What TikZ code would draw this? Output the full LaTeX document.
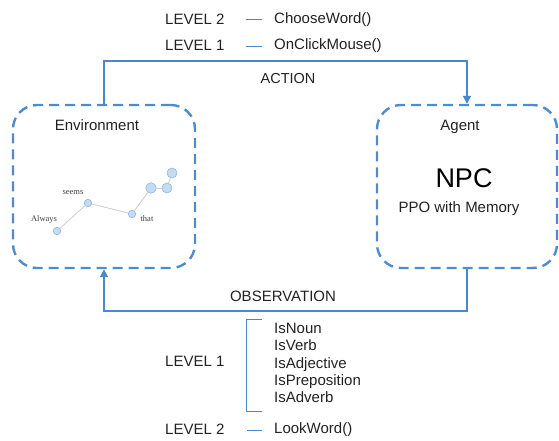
\documentclass[tikz,border=0pt]{standalone}
\usepackage{fontspec}
\setmainfont{Liberation Sans}
\newfontfamily\serifw{Liberation Serif}
\usetikzlibrary{arrows.meta,calc}
\definecolor{lineblue}{HTML}{4A88CC}
\definecolor{boxblue}{HTML}{4D8CD2}
\definecolor{txt}{HTML}{222222}
\definecolor{nodefill}{HTML}{C6DBF3}
\definecolor{nodedraw}{HTML}{8DB6E2}
\begin{document}
\begin{tikzpicture}[x=1pt,y=-1pt,
  lbl/.style={anchor=base west,inner sep=0pt,font=\fontsize{15}{17}\selectfont,text=txt},
  clbl/.style={anchor=base,inner sep=0pt,font=\fontsize{15}{17}\selectfont,text=txt},
  dbox/.style={draw=boxblue,line width=2.4pt,dash pattern=on 10pt off 6pt,rounded corners=24pt,minimum height=163pt,inner sep=0pt},
  conn/.style={draw=lineblue,line width=1.8pt},
  tip/.style={-{Triangle[width=8pt,length=8pt]}},
  thin/.style={draw=lineblue,line width=1pt},
  wnode/.style={circle,fill=nodefill,draw=nodedraw,line width=0.6pt,inner sep=0pt},
  wtxt/.style={inner sep=0pt,font=\serifw\fontsize{8.5}{9}\selectfont,text=black!75},
  wline/.style={draw=black!18,line width=0.9pt}]
\useasboundingbox (0,0) rectangle (559,440);

% boxes
\node[dbox,minimum width=182pt] (env) at (104,186.5) {};
\node[dbox,minimum width=180pt] (agent) at (467,186.5) {};

% titles
\node[clbl] (envt) at (97,130.5) {Environment};
\node[clbl] (agentt) at (460,130.5) {Agent};
\node[anchor=base,inner sep=0pt,font=\fontsize{27}{30}\selectfont,text=black] (npc) at (464,187.5) {NPC};
\node[clbl] (ppo) at (459,212) {PPO with Memory};

% connectors
\coordinate (act) at (288,61);
\coordinate (obs) at (288,311);
\draw[conn,tip] (env.north) |- (act) -| (agent.north);
\draw[conn,tip] (agent.south) |- (obs) -| (env.south);
\node[clbl,font=\fontsize{14.5}{17}\selectfont] (actl) at (288,83) {ACTION};
\node[clbl] (obsl) at (283,301.5) {OBSERVATION};

% top levels
\node[lbl] (t2) at (165,24.5) {LEVEL 2};
\node[lbl] (t1) at (165,50.5) {LEVEL 1};
\node[lbl] (cw) at (274,23) {ChooseWord()};
\node[lbl] (om) at (274,49) {OnClickMouse()};
\coordinate (d2a) at (246,19); \coordinate (d2b) at (262,19);
\coordinate (d1a) at (246,46); \coordinate (d1b) at (262,46);
\draw[thin] (d2a) -- (d2b);
\draw[thin] (d1a) -- (d1b);

% bottom levels
\node[lbl] (b1) at (165,366.4) {LEVEL 1};
\node[lbl] (b2) at (165,434.4) {LEVEL 2};
\node[lbl] (i1) at (274,333.4) {IsNoun};
\node[lbl] (i2) at (274,350.7) {IsVerb};
\node[lbl] (i3) at (274,368.0) {IsAdjective};
\node[lbl] (i4) at (274,385.3) {IsPreposition};
\node[lbl] (i5) at (274,402.6) {IsAdverb};
\node[lbl] (lw) at (274,433.5) {LookWord()};
\coordinate (br1) at (262,319); \coordinate (br2) at (246,319);
\coordinate (br3) at (246,411); \coordinate (br4) at (262,411);
\draw[thin] (br1) -- (br2) -- (br3) -- (br4);
\coordinate (d3a) at (247,430); \coordinate (d3b) at (262,430);
\draw[thin] (d3a) -- (d3b);

% word graph
\node[wnode,minimum size=7.5pt] (wa) at (57,231) {};
\node[wnode,minimum size=7.5pt] (ws) at (88,203) {};
\node[wnode,minimum size=7.5pt] (wt) at (132,214) {};
\node[wnode,minimum size=10.5pt] (c1) at (151,188) {};
\node[wnode,minimum size=10pt] (c2) at (167,188) {};
\node[wnode,minimum size=10pt] (c3) at (172,173) {};
\draw[wline] (wa) -- (ws);
\draw[wline] (ws) -- (wt);
\draw[wline] (wt) -- (c1);
\draw[wline] (c1) -- (c2);
\draw[wline] (c2) -- (c3);
\node[wtxt] (la) at (44,219) {Always};
\node[wtxt] (ls) at (73,193) {seems};
\node[wtxt] (lt) at (147,219) {that};
\end{tikzpicture}
\end{document}
